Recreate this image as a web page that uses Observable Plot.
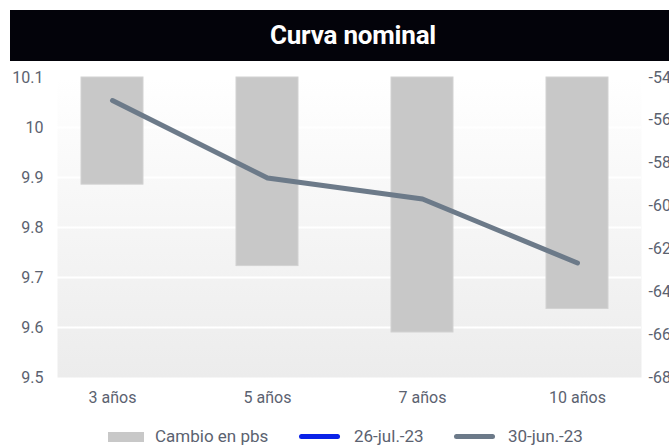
<!DOCTYPE html>
<html><head><meta charset="utf-8">
<script src="https://cdn.jsdelivr.net/npm/d3@7"></script>
<script src="https://cdn.jsdelivr.net/npm/@observablehq/plot@0.6"></script>
<style>
body{margin:0;width:669px;height:445px;overflow:hidden;background:#fff;font-family:Roboto,sans-serif;position:relative}
#title{position:absolute;left:10px;top:10px;width:686px;height:51px;background:#03030a;color:#fff;font-weight:700;font-size:26px;line-height:51px;text-align:center;letter-spacing:-0.2px}
#chart{position:absolute;left:0;top:60px}
.lg{position:absolute;top:425px;height:22px;line-height:22px;font-size:17px;color:#5b6270;white-space:nowrap}
.sw{position:absolute}
</style></head>
<body>
<div id="title">Curva nominal</div>
<div id="chart"></div>
<div id="legend"></div>
<script>
const categories = ["3 años", "5 años", "7 años", "10 años"];
const cambioPbs = [-59.0, -62.8, -65.9, -64.8];
const jun30 = [10.054, 9.899, 9.857, 9.729];
const jul26 = [9.46, 9.27, 9.20, 9.08];
const leftTicks = [9.5, 9.6, 9.7, 9.8, 9.9, 10.0, 10.1];
const rightTicks = [-68, -66, -64, -62, -60, -58, -56, -54];
const seriesNames = ["Cambio en pbs", "26-jul.-23", "30-jun.-23"];
const colors = ["#c8c8c8", "#0a22e8", "#6c7a89"];

const L0 = 9.5, L1 = 10.1, R0 = -68, R1 = -54;
const toLeft = v => L0 + (v - R0) * (L1 - L0) / (R1 - R0);
const toRight = v => R0 + (v - L0) * (R1 - R0) / (L1 - L0);

const data = categories.map((c, i) => ({cat: c, cambio: cambioPbs[i], jun: jun30[i], jul: jul26[i]}));

const plot = Plot.plot({
  width: 669,
  height: 357,
  marginTop: 17,
  marginBottom: 40,
  marginLeft: 57,
  marginRight: 28,
  style: {fontFamily: "Roboto, sans-serif", fontSize: "16px", color: "#5b6270", background: "transparent"},
  x: {type: "band", domain: categories, range: [33.75, 655.75], paddingInner: 0.6, paddingOuter: 0.3, label: null},
  y: {domain: [L0, L1], label: null},
  marks: [
    Plot.frame({fill: "url(#bgGrad)", stroke: "none"}),
    Plot.gridY(leftTicks.slice(1, -1), {stroke: "#ffffff", strokeOpacity: 1, strokeWidth: 2}),
    Plot.barY(data, {x: "cat", y1: () => toLeft(R1), y2: d => toLeft(d.cambio), fill: colors[0], stroke: "#d2d2d2", strokeWidth: 1}),
    Plot.line(data, {x: "cat", y: "jul", stroke: colors[1], strokeWidth: 5, strokeLinecap: "round", clip: true}),
    Plot.line(data, {x: "cat", y: "jun", stroke: colors[2], strokeWidth: 5, strokeLinecap: "round", strokeLinejoin: "round"}),
    Plot.axisY(leftTicks, {anchor: "left", tickSize: 0, tickPadding: 14, tickFormat: d => String(+d.toFixed(1)), label: null}),
    Plot.axisY(rightTicks.map(toLeft), {anchor: "right", tickSize: 0, tickPadding: 7, tickFormat: v => String(Math.round(toRight(v))), label: null}),
    Plot.axisX({tickSize: 0, tickPadding: 14, label: null})
  ]
});

const defs = d3.select(plot).insert("defs", ":first-child");
const g = defs.append("linearGradient").attr("id", "bgGrad").attr("x1", 0).attr("y1", 0).attr("x2", 0).attr("y2", 1);
g.append("stop").attr("offset", "0").attr("stop-color", "#ffffff");
g.append("stop").attr("offset", "1").attr("stop-color", "#ececec");

document.getElementById("chart").appendChild(plot);

// legend
const legend = document.getElementById("legend");
const lx = [[108, 155], [299, 354], [454, 508]];
seriesNames.forEach((name, i) => {
  const sw = document.createElement("div");
  sw.className = "sw";
  sw.style.left = lx[i][0] + "px";
  if (i === 0) {
    sw.style.top = "432px"; sw.style.width = "36px"; sw.style.height = "10px";
  } else {
    sw.style.top = "434px"; sw.style.width = "41px"; sw.style.height = "5px"; sw.style.borderRadius = "3px";
  }
  sw.style.background = colors[i];
  legend.appendChild(sw);
  const t = document.createElement("div");
  t.className = "lg";
  t.style.left = lx[i][1] + "px";
  t.textContent = name;
  legend.appendChild(t);
});
</script>
</body></html>
